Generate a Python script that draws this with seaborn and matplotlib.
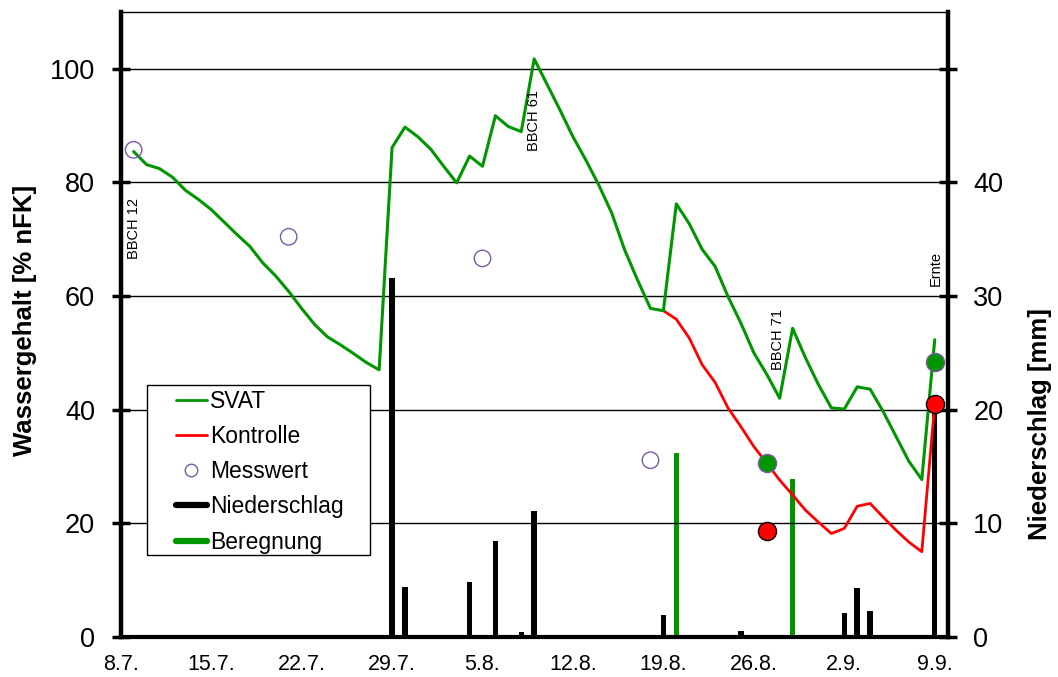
import matplotlib
matplotlib.use("Agg")
import matplotlib.pyplot as plt
from matplotlib.lines import Line2D
from matplotlib.patches import Rectangle
import pandas as pd
import seaborn as sns

# Tage gezählt ab 8.7.
tick_tage = [0, 7, 14, 21, 28, 35, 42, 49, 56, 63]
tick_labels = ["8.7.", "15.7.", "22.7.", "29.7.", "5.8.", "12.8.",
               "19.8.", "26.8.", "2.9.", "9.9."]

# SVAT-Modell, Wassergehalt [% nFK]
svat_tage = list(range(1, 64))
svat_werte = [85.4, 83.1, 82.4, 80.9, 78.6, 77.0, 75.2, 73.0, 70.8, 68.7,
              65.8, 63.5, 60.8, 57.8, 55.0, 52.8, 51.4, 49.9, 48.3, 47.0,
              86.1, 89.7, 88.0, 85.8, 82.8, 79.9, 84.6, 82.8, 91.7, 89.8,
              88.9, 101.7, 97.2, 92.7, 88.0, 83.9, 79.5, 74.6, 68.1, 62.8,
              57.8, 57.4, 76.2, 72.7, 68.2, 65.2, 59.9, 55.2, 50.0, 46.2,
              42.0, 54.3, 49.1, 44.4, 40.3, 40.1, 44.0, 43.6, 39.7, 35.3,
              30.9, 27.7, 52.3]

# Kontrolle (ohne Beregnung), ab 19.8.
kontrolle_tage = list(range(42, 64))
kontrolle_werte = [57.4, 55.9, 52.6, 47.9, 44.8, 40.3, 37.0, 33.5, 30.6,
                   27.6, 25.0, 22.3, 20.2, 18.2, 19.1, 23.0, 23.5, 21.1,
                   18.8, 16.7, 15.0, 41.0]

# Messwerte
mess_tage = [1, 13, 28, 41]
mess_werte = [85.7, 70.4, 66.6, 31.1]
svat_mess_tage = [50, 63]
svat_mess_werte = [30.6, 48.3]
kontrolle_mess_tage = [50, 63]
kontrolle_mess_werte = [18.7, 41.0]

# Niederschlag und Beregnung [mm]
nieder_tage = [17, 21, 22, 27, 29, 31, 32, 33, 42, 48, 55, 56, 57, 58, 63]
nieder_mm = [0.2, 31.6, 4.4, 4.8, 8.4, 0.4, 11.1, 0.1, 1.9, 0.5, 0.1,
             2.1, 4.3, 2.3, 20.5]
beregnung_tage = [43, 52]
beregnung_mm = [16.2, 13.9]

# Entwicklungsstadien
stadien = ["BBCH 12", "BBCH 61", "BBCH 71", "Ernte"]
stadien_tage = [1.0, 32.0, 50.9, 63.1]
stadien_hoehe = [71.9, 90.8, 52.4, 64.9]

GRUEN = "#009600"
ROT = "#ff0000"
LILA = "#7a5aa6"

sns.set_style("white")
plt.rcParams["font.family"] = ["Liberation Sans", "DejaVu Sans"]
plt.rcParams["text.color"] = "black"
plt.rcParams["axes.labelcolor"] = "black"
plt.rcParams["xtick.color"] = "black"
plt.rcParams["ytick.color"] = "black"

svat_df = pd.DataFrame({"Tag": svat_tage, "Wert": svat_werte})
kontrolle_df = pd.DataFrame({"Tag": kontrolle_tage, "Wert": kontrolle_werte})
mess_df = pd.DataFrame({"Tag": mess_tage, "Wert": mess_werte})
svat_mess_df = pd.DataFrame({"Tag": svat_mess_tage, "Wert": svat_mess_werte})
kontrolle_mess_df = pd.DataFrame({"Tag": kontrolle_mess_tage,
                                  "Wert": kontrolle_mess_werte})

fig = plt.figure(figsize=(10.58, 6.77), dpi=100)
ax = fig.add_axes([0.1141, 0.0591, 0.8957 - 0.1141, 0.9827 - 0.0591])
ax2 = ax.twinx()

# Balken auf der rechten Achse (mm)
ax2.bar(nieder_tage, nieder_mm, width=0.42, color="black", linewidth=0)
ax2.bar(beregnung_tage, beregnung_mm, width=0.38, color=GRUEN, linewidth=0)

# Linien und Punkte auf der linken Achse über den Balken
ax.set_zorder(ax2.get_zorder() + 1)
ax.patch.set_visible(False)

sns.lineplot(data=kontrolle_df, x="Tag", y="Wert", ax=ax, color=ROT,
             linewidth=2.0, zorder=3)
sns.lineplot(data=svat_df, x="Tag", y="Wert", ax=ax, color=GRUEN,
             linewidth=2.2, zorder=4)
sns.scatterplot(data=mess_df, x="Tag", y="Wert", ax=ax, marker="o", s=140,
                facecolor="none", edgecolor=LILA, linewidth=1.0, zorder=5)
sns.scatterplot(data=svat_mess_df, x="Tag", y="Wert", ax=ax, marker="o",
                s=170, color=GRUEN, edgecolor=LILA, linewidth=1.0, zorder=6)
sns.scatterplot(data=kontrolle_mess_df, x="Tag", y="Wert", ax=ax, marker="o",
                s=170, color=ROT, edgecolor="black", linewidth=1.0, zorder=6)

for name, t, h in zip(stadien, stadien_tage, stadien_hoehe):
    ax.text(t, h, name, rotation=90, ha="center", va="center", fontsize=10.5,
            zorder=7)

# Achsen
ax.set_xlim(0, 64)
ax.set_ylim(0, 110)
ax2.set_ylim(0, 55)
ax.set_xticks(tick_tage)
ax.set_xticklabels(tick_labels)
ax.set_yticks([0, 20, 40, 60, 80, 100])
ax2.set_yticks([0, 10, 20, 30, 40, 50])
ax2.set_yticklabels(["0", "10", "20", "30", "40", ""])
ax.set_xlabel("")
ax.set_ylabel("")
ax2.set_ylabel("")

ax.grid(False)
ax2.grid(False)
for g in [20, 40, 60, 80, 100]:
    ax.axhline(g, color="black", linewidth=1.0, zorder=1)

for side in ["left", "right", "bottom", "top"]:
    ax2.spines[side].set_visible(False)
ax.spines["right"].set_visible(False)
ax2.spines["right"].set_visible(True)
ax2.spines["right"].set_linewidth(3.2)
ax2.spines["right"].set_color("black")
ax.spines["left"].set_linewidth(3.2)
ax.spines["bottom"].set_linewidth(3.0)
ax.spines["top"].set_linewidth(1.0)
for side in ["left", "bottom", "top"]:
    ax.spines[side].set_color("black")

ax.tick_params(axis="y", direction="inout", length=13, width=2.5,
               labelsize=19.5, pad=12, colors="black")
ax.tick_params(axis="x", direction="inout", length=10, width=2.5,
               labelsize=15.5, pad=7, colors="black")
ax2.tick_params(axis="y", direction="inout", length=13, width=2.5,
                labelsize=19.5, pad=12, colors="black")

fig.text(25 / 1058, 1 - 320 / 677, "Wassergehalt [% nFK]", rotation=90,
         ha="center", va="center", fontsize=18.5, fontweight="bold",
         color="black")
fig.text(1040 / 1058, 1 - 424 / 677, "Niederschlag [mm]", rotation=90,
         ha="center", va="center", fontsize=18.5, fontweight="bold",
         color="black")

# Legende mit eigenem, deckendem Rahmen
ax.add_patch(Rectangle((147 / 1058, 1 - 555 / 677), 223 / 1058, 170 / 677,
                       transform=fig.transFigure, facecolor="white",
                       edgecolor="black", linewidth=1.0, zorder=8,
                       clip_on=False))
handles = [
    Line2D([], [], color=GRUEN, linewidth=2.0),
    Line2D([], [], color=ROT, linewidth=2.0),
    Line2D([], [], color=LILA, marker="o", markerfacecolor="none",
           markersize=9, linestyle="none", markeredgewidth=1.0),
    Line2D([], [], color="black", linewidth=4.5),
    Line2D([], [], color=GRUEN, linewidth=4.5),
]
labels = ["SVAT", "Kontrolle", "Messwert", "Niederschlag", "Beregnung"]
leg = ax.legend(handles, labels, loc="upper left",
                bbox_to_anchor=(176 / 1058, 1 - 390 / 677),
                bbox_transform=fig.transFigure, frameon=False,
                fontsize=16.5, handlelength=1.35, handletextpad=0.15,
                labelspacing=0.53, borderpad=0.0, borderaxespad=0.0)
leg.set_zorder(9)

fig.savefig("out.png", dpi=100)
